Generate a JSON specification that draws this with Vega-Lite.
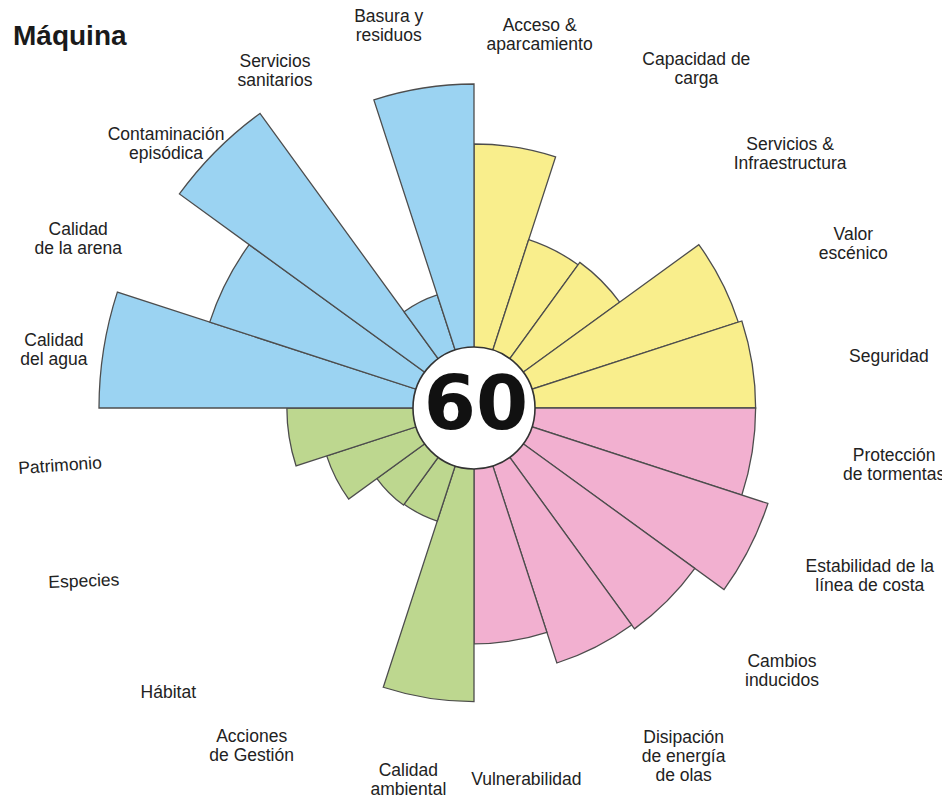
{
  "$schema": "https://vega.github.io/schema/vega-lite/v6.json",
  "width": 948,
  "height": 816,
  "padding": 0,
  "autosize": {"type": "none"},
  "background": "white",
  "view": {"stroke": null},
  "config": {
    "text": {"font": "Liberation Sans", "fontSize": 17.5, "lineHeight": 19, "color": "#222222", "align": "center", "baseline": "middle", "lineBreak": "\n"}
  },
  "title": {
    "text": "Máquina",
    "anchor": "start",
    "frame": "group",
    "orient": "top",
    "offset": 0,
    "baseline": "alphabetic",
    "dx": 13,
    "dy": 73,
    "font": "Liberation Sans",
    "fontSize": 28,
    "fontWeight": "bold",
    "color": "#1a1a1a"
  },
  "datasets": {
    "items": [
      {"idx": 1, "name": "Acceso &\naparcamiento", "group": "Uso", "value": 70.4},
      {"idx": 2, "name": "Capacidad de\ncarga", "group": "Uso", "value": 47.2},
      {"idx": 3, "name": "Servicios &\nInfraestructura", "group": "Uso", "value": 48.0},
      {"idx": 4, "name": "Valor\nescénico", "group": "Uso", "value": 74.1},
      {"idx": 5, "name": "Seguridad", "group": "Uso", "value": 75.1},
      {"idx": 6, "name": "Protección\nde tormentas", "group": "Protección", "value": 75.1},
      {"idx": 7, "name": "Estabilidad de la\nlínea de costa", "group": "Protección", "value": 82.4},
      {"idx": 8, "name": "Cambios\ninducidos", "group": "Protección", "value": 72.8},
      {"idx": 9, "name": "Disipación\nde energía\nde olas", "group": "Protección", "value": 71.5},
      {"idx": 10, "name": "Vulnerabilidad", "group": "Protección", "value": 62.9},
      {"idx": 11, "name": "Calidad\nambiental", "group": "Conservación", "value": 78.3},
      {"idx": 12, "name": "Acciones\nde Gestión", "group": "Conservación", "value": 31.7},
      {"idx": 13, "name": "Hábitat", "group": "Conservación", "value": 32.0},
      {"idx": 14, "name": "Especies", "group": "Conservación", "value": 41.3},
      {"idx": 15, "name": "Patrimonio", "group": "Conservación", "value": 49.9},
      {"idx": 16, "name": "Calidad\ndel agua", "group": "Calidad", "value": 100.0},
      {"idx": 17, "name": "Calidad\nde la arena", "group": "Calidad", "value": 74.1},
      {"idx": 18, "name": "Contaminación\nepisódica", "group": "Calidad", "value": 97.1},
      {"idx": 19, "name": "Servicios\nsanitarios", "group": "Calidad", "value": 31.7},
      {"idx": 20, "name": "Basura y\nresiduos", "group": "Calidad", "value": 86.4}
    ],
    "score": [{"score": 60}]
  },
  "data": {"name": "items"},
  "resolve": {"scale": {"theta": "independent", "radius": "independent", "color": "independent"}},
  "layer": [
    {
      "transform": [
        {"aggregate": [{"op": "count", "as": "n"}], "groupby": ["idx", "group", "value"]},
        {"stack": "n", "groupby": [], "sort": [{"field": "idx", "order": "ascending"}], "as": ["t0", "t1"]}
      ],
      "mark": {"type": "arc", "stroke": "#4d4d4d", "strokeWidth": 1.3, "strokeJoin": "miter"},
      "encoding": {
        "theta": {"field": "t0", "type": "quantitative", "stack": null, "scale": {"domain": [0, 20], "range": [0, 6.283185307179586]}},
        "theta2": {"field": "t1"},
        "radius": {"field": "value", "type": "quantitative", "stack": null, "scale": {"type": "linear", "domain": [0, 100], "range": [0, 375], "zero": true}},
        "color": {
          "field": "group",
          "type": "nominal",
          "legend": null,
          "scale": {
            "domain": ["Uso", "Protección", "Conservación", "Calidad"],
            "range": ["#F9EE8C", "#F2B0D0", "#BDD78F", "#9BD3F2"]
          }
        }
      }
    },
    {
      "transform": [{"filter": {"field": "idx", "oneOf": [10]}}],
      "mark": {"type": "text", "radius": 376},
      "encoding": {
        "theta": {"field": "idx", "type": "quantitative", "stack": null, "scale": {"domain": [0.5, 20.5], "range": [0.01745, 6.30064]}},
        "text": {"field": "name"}
      }
    },
    {
      "transform": [{"filter": {"field": "idx", "oneOf": [5, 13]}}],
      "mark": {"type": "text", "radius": 418},
      "encoding": {
        "theta": {"field": "idx", "type": "quantitative", "stack": null, "scale": {"domain": [0.5, 20.5], "range": [0.03491, 6.31809]}},
        "text": {"field": "name"}
      }
    },
    {
      "transform": [{"filter": {"field": "idx", "oneOf": [14]}}],
      "mark": {"type": "text", "radius": 427, "angle": 358},
      "encoding": {
        "theta": {"field": "idx", "type": "quantitative", "stack": null, "scale": {"domain": [0.5, 20.5], "range": [0.05236, 6.33555]}},
        "text": {"field": "name"}
      }
    },
    {
      "transform": [{"filter": {"field": "idx", "oneOf": [15]}}],
      "mark": {"type": "text", "radius": 418, "angle": 356},
      "encoding": {
        "theta": {"field": "idx", "type": "quantitative", "stack": null, "scale": {"domain": [0.5, 20.5], "range": [0.01745, 6.30064]}},
        "text": {"field": "name"}
      }
    },
    {
      "transform": [{"filter": {"field": "idx", "oneOf": [1, 11]}}],
      "mark": {"type": "text", "radius": 378, "dy": -9.5},
      "encoding": {
        "theta": {"field": "idx", "type": "quantitative", "stack": null, "scale": {"domain": [0.5, 20.5], "range": [0.01745, 6.30064]}},
        "text": {"field": "name"}
      }
    },
    {
      "transform": [{"filter": {"field": "idx", "oneOf": [2, 3, 12]}}],
      "mark": {"type": "text", "radius": 405, "dy": -9.5},
      "encoding": {
        "theta": {"field": "idx", "type": "quantitative", "stack": null, "scale": {"domain": [0.5, 20.5], "range": [0.10996, 6.39314]}},
        "text": {"field": "name"}
      }
    },
    {
      "transform": [{"filter": {"field": "idx", "oneOf": [4]}}],
      "mark": {"type": "text", "radius": 413, "dy": -9.5},
      "encoding": {
        "theta": {"field": "idx", "type": "quantitative", "stack": null, "scale": {"domain": [0.5, 20.5], "range": [0.06458, 6.34776]}},
        "text": {"field": "name"}
      }
    },
    {
      "transform": [{"filter": {"field": "idx", "oneOf": [6, 16]}}],
      "mark": {"type": "text", "radius": 424, "dy": -9.5},
      "encoding": {
        "theta": {"field": "idx", "type": "quantitative", "stack": null, "scale": {"domain": [0.5, 20.5], "range": [-0.02094, 6.26224]}},
        "text": {"field": "name"}
      }
    },
    {
      "transform": [{"filter": {"field": "idx", "oneOf": [19, 20]}}],
      "mark": {"type": "text", "radius": 391, "dy": -9.5},
      "encoding": {
        "theta": {"field": "idx", "type": "quantitative", "stack": null, "scale": {"domain": [0.5, 20.5], "range": [-0.06283, 6.22035]}},
        "text": {"field": "name"}
      }
    },
    {
      "transform": [{"filter": {"field": "idx", "oneOf": [8, 18]}}],
      "mark": {"type": "text", "radius": 405, "dy": -9.5},
      "encoding": {
        "theta": {"field": "idx", "type": "quantitative", "stack": null, "scale": {"domain": [0.5, 20.5], "range": [-0.07854, 6.20465]}},
        "text": {"field": "name"}
      }
    },
    {
      "transform": [{"filter": {"field": "idx", "oneOf": [7, 17]}}],
      "mark": {"type": "text", "radius": 430, "dy": -9.5},
      "encoding": {
        "theta": {"field": "idx", "type": "quantitative", "stack": null, "scale": {"domain": [0.5, 20.5], "range": [-0.06981, 6.21337]}},
        "text": {"field": "name"}
      }
    },
    {
      "transform": [{"filter": {"field": "idx", "oneOf": [9]}}],
      "mark": {"type": "text", "radius": 407, "dy": -19},
      "encoding": {
        "theta": {"field": "idx", "type": "quantitative", "stack": null, "scale": {"domain": [0.5, 20.5], "range": [-0.06981, 6.21337]}},
        "text": {"field": "name"}
      }
    },
    {
      "data": {"name": "score"},
      "mark": {"type": "arc", "radius": 61, "fill": "white", "stroke": "#333333", "strokeWidth": 1.6},
      "encoding": {}
    },
    {
      "data": {"name": "score"},
      "mark": {"type": "text", "font": "DejaVu Sans", "fontSize": 75, "fontWeight": "bold", "color": "#111111", "align": "center", "baseline": "middle", "dx": 2, "dy": -2},
      "encoding": {"text": {"field": "score", "type": "quantitative"}}
    }
  ]
}
